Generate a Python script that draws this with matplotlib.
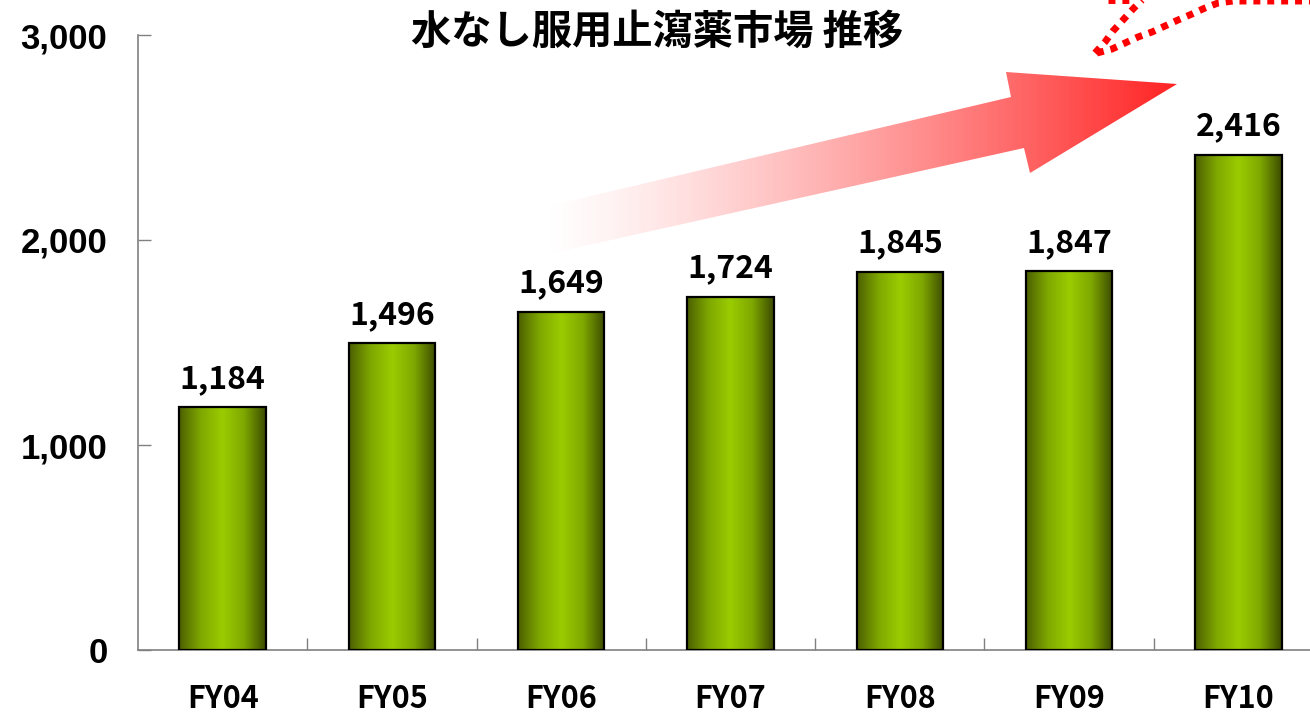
"""
水なし服用止瀉薬市場 推移 - barras com gradiente + seta vermelha.
"""

import numpy as np
import matplotlib
matplotlib.use("Agg")
import matplotlib.pyplot as plt
from matplotlib.colors import LinearSegmentedColormap
from matplotlib.patches import Polygon
from matplotlib.ticker import FuncFormatter, FixedLocator


# dados
anos = ["FY04", "FY05", "FY06", "FY07", "FY08", "FY09", "FY10"]
mercado = [1184, 1496, 1649, 1724, 1845, 1847, 2416]
yticks = [0, 1000, 2000, 3000]
titulo = "水なし服用止瀉薬市場 推移"

W, H = 1310, 716
CJK = ["Noto Sans CJK JP", "DejaVu Sans"]

# cilindro verde
cmap_barra = LinearSegmentedColormap.from_list(
    "cil", ["#4c5f00", "#7fa800", "#9acc00", "#7fa800", "#3c4b00"])


fig = plt.figure(figsize=(W / 100, H / 100), dpi=100)
ax = fig.add_axes([138 / W, (H - 650) / H, 1185 / W, 615 / H])

x = np.arange(len(anos))
barras = ax.bar(x, mercado, width=0.51, color="none", edgecolor="black",
                linewidth=1.6, zorder=3)
grad = np.linspace(0, 1, 256)[None, :]
for b in barras:
    ax.imshow(grad, cmap=cmap_barra, aspect="auto", zorder=2,
              extent=(b.get_x(), b.get_x() + b.get_width(), 0, b.get_height()),
              interpolation="bilinear")
    ax.annotate(f"{int(b.get_height()):,}",
                (b.get_x() + b.get_width() / 2, b.get_height()),
                xytext=(0, 9), textcoords="offset points",
                ha="center", va="bottom", fontsize=23, fontweight="bold",
                family=CJK)

ax.set_xlim(-0.5, len(anos) - 0.5)
ax.set_ylim(0, 3000)
ax.set_yticks(yticks)
ax.yaxis.set_major_formatter(FuncFormatter(lambda v, p: f"{int(v):,}"))
ax.tick_params(axis="y", direction="in", length=9, width=1, color="#808080",
               pad=22, labelsize=25)
for t in ax.get_yticklabels():
    t.set_family(["Liberation Sans", "DejaVu Sans"]); t.set_fontweight("bold")

ax.set_xticks(x)
ax.set_xticklabels(anos, fontsize=22, fontweight="bold", family=CJK)
ax.tick_params(axis="x", which="major", length=0, pad=24)
ax.xaxis.set_minor_locator(FixedLocator(np.arange(0.5, len(anos) - 0.5, 1)))
ax.tick_params(axis="x", which="minor", direction="in", length=9, width=1,
               color="#808080")

for s in ["top", "right"]:
    ax.spines[s].set_visible(False)
for s in ["left", "bottom"]:
    ax.spines[s].set_color("#808080")
    ax.spines[s].set_linewidth(1.2)

# camada de desenho em pixels para seta e pontilhados
ov = fig.add_axes([0, 0, 1, 1], zorder=5)
ov.set_xlim(0, W); ov.set_ylim(H, 0); ov.axis("off")

seta = [(540, 208), (1011, 97), (1006, 72), (1177, 84),
        (1030, 173), (1024, 148), (548, 254)]
poli = Polygon(seta, closed=True, facecolor="none", edgecolor="none")
ov.add_patch(poli)
xs = np.linspace(0, 1, 400)
rgba = np.zeros((1, 400, 4))
rgba[..., 0] = 1.0; rgba[..., 1] = 0.09; rgba[..., 2] = 0.09
rgba[..., 3] = np.clip(xs, 0, 1) ** 1.3 * 0.95
im = ov.imshow(rgba, extent=(540, 1177, 254, 72), aspect="auto",
               interpolation="bilinear")
im.set_clip_path(poli)

pont = dict(color="#ff0000", lw=5, linestyle=(0, (1, 1)),
            solid_capstyle="butt", dash_capstyle="butt")
ov.plot([1095, 1105, 1113, 1123, 1133, 1142],
        [53, 42, 31, 20, 9, 0], **pont)
ov.plot([1097, 1112, 1125, 1138, 1152, 1165, 1178, 1192, 1205, 1218, 1233, 1310],
        [53, 49, 43, 37, 32, 26, 20, 14, 8, 3, 1, 1], **pont)
ov.plot([1108, 1130], [0, 0], **pont)

ov.text(657, 32, titulo, ha="center", va="center", fontsize=29,
        fontweight="bold", family=CJK)

fig.savefig("out.png", dpi=100)
